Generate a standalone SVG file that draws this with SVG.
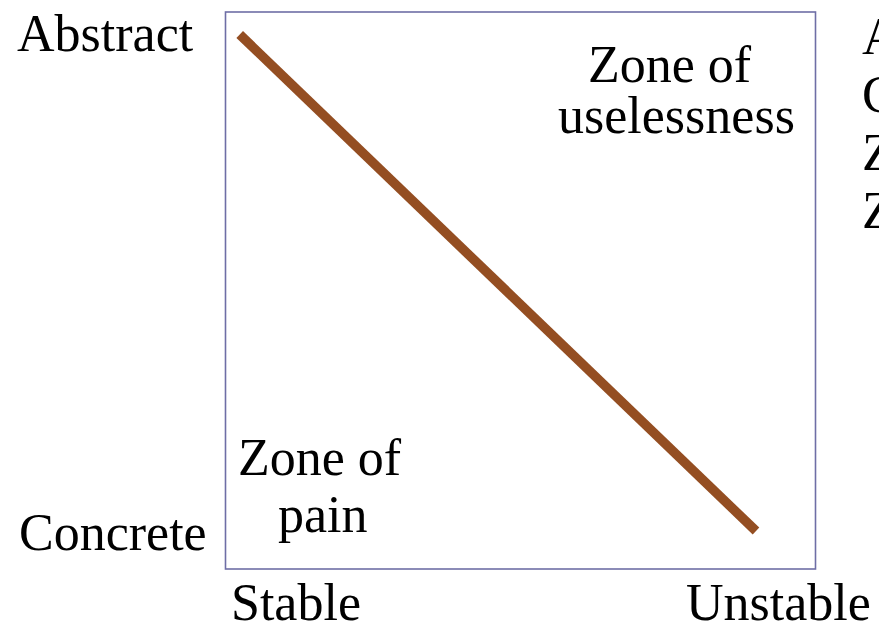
<svg xmlns="http://www.w3.org/2000/svg" width="879" height="629" viewBox="0 0 879 629">
<style>
.t{font-family:"Liberation Serif","Times New Roman",serif;font-size:52px;fill:#000}
</style>
<rect width="879" height="629" fill="#fff"/>
<g id="chart">
<rect x="225.5" y="12" width="590" height="557" fill="none" stroke="#6e6ea6" stroke-width="1.6"/>
</g>
<g id="connectors">
<line x1="239.7" y1="34.5" x2="756" y2="531" stroke="#944e22" stroke-width="9.5" stroke-linecap="butt"/>
</g>
<g id="axis-labels">
<text class="t" x="17" y="51">Abstract</text>
<text class="t" x="19" y="550">Concrete</text>
<text class="t" x="231" y="620">Stable</text>
<text class="t" x="686" y="620">Unstable</text>
</g>
<g id="zone-uselessness">
<text class="t" x="588" y="82">Zone of</text>
<text class="t" x="558" y="133">uselessness</text>
</g>
<g id="zone-pain">
<text class="t" x="238" y="475">Zone of</text>
<text class="t" x="278" y="532">pain</text>
</g>
<g id="side-text">
<text class="t" x="862" y="54">A</text>
<text class="t" x="862" y="112">C</text>
<text class="t" x="862" y="170">Z</text>
<text class="t" x="862" y="228">Z</text>
</g>
</svg>
